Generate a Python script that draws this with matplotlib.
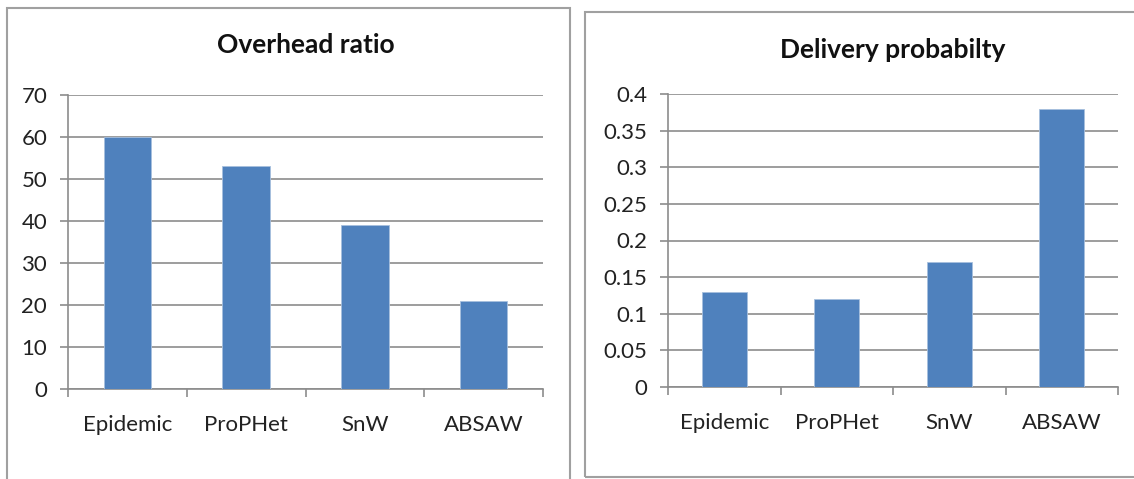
import matplotlib.pyplot as plt
from matplotlib.patches import Rectangle

plt.rcParams['font.family'] = ['Lato', 'DejaVu Sans']

methods = ["Epidemic", "ProPHet", "SnW", "ABSAW"]
overhead = [60, 53, 39, 21]
delivery = [0.13, 0.12, 0.17, 0.38]
overhead_ticks = [0, 10, 20, 30, 40, 50, 60, 70]
delivery_ticks = [0, 0.05, 0.1, 0.15, 0.2, 0.25, 0.3, 0.35, 0.4]
delivery_labels = ["0", "0.05", "0.1", "0.15", "0.2", "0.25", "0.3", "0.35", "0.4"]

bar_color = "#4F81BD"
grid_color = "#8C8C8C"
W, H = 1134, 479

fig = plt.figure(figsize=(W / 100, H / 100), dpi=100)

# chart borders (pixel boxes converted to figure fraction)
def box(x0, y0, x1, y1):
    fig.patches.append(Rectangle((x0 / W, 1 - y1 / H), (x1 - x0) / W, (y1 - y0) / H,
                                 transform=fig.transFigure, fill=False,
                                 edgecolor="#A0A0A0", linewidth=1.5))

box(7, 8, 570, 490)
box(585, 12, 1140, 477)


def bar_chart(rect, values, ticks, labels, title, title_y):
    ax = fig.add_axes(rect)
    x = range(len(methods))
    ax.bar(x, values, width=0.4, color=bar_color, edgecolor="#A7C0DE", linewidth=0.6, zorder=3)
    ax.set_xlim(-0.5, len(methods) - 0.5)
    ax.set_ylim(ticks[0], ticks[-1])
    ax.set_yticks(ticks)
    ax.set_yticklabels(labels, fontsize=16, color="#222222")
    ax.set_xticks([i - 0.5 for i in range(len(methods) + 1)], minor=False)
    ax.set_xticklabels([])
    ax.set_xticks(list(x), minor=True)
    ax.set_xticklabels(methods, minor=True, fontsize=16, color="#222222")
    ax.tick_params(axis="x", which="minor", length=0, pad=19)
    ax.tick_params(axis="x", which="major", length=6, color=grid_color, width=1.2)
    ax.tick_params(axis="y", length=6, color=grid_color, width=1.2, pad=9)
    ax.grid(axis="y", color=grid_color, linewidth=1.2, zorder=0)
    for s in ["top", "right"]:
        ax.spines[s].set_visible(False)
    for s in ["left", "bottom"]:
        ax.spines[s].set_color(grid_color)
        ax.spines[s].set_linewidth(1.2)
    fig.text(rect[0] + rect[2] / 2, title_y, title, ha="center", va="center",
             fontsize=19, fontweight="bold", color="#111111")
    return ax


bar_chart([68 / W, 1 - 389 / H, 475 / W, 294 / H], overhead, overhead_ticks,
          [str(t) for t in overhead_ticks], "Overhead ratio", 1 - 45 / H)
bar_chart([668 / W, 1 - 387 / H, 450 / W, 293 / H], delivery, delivery_ticks,
          delivery_labels, "Delivery probabilty", 1 - 50 / H)

fig.savefig("out.png", dpi=100)
